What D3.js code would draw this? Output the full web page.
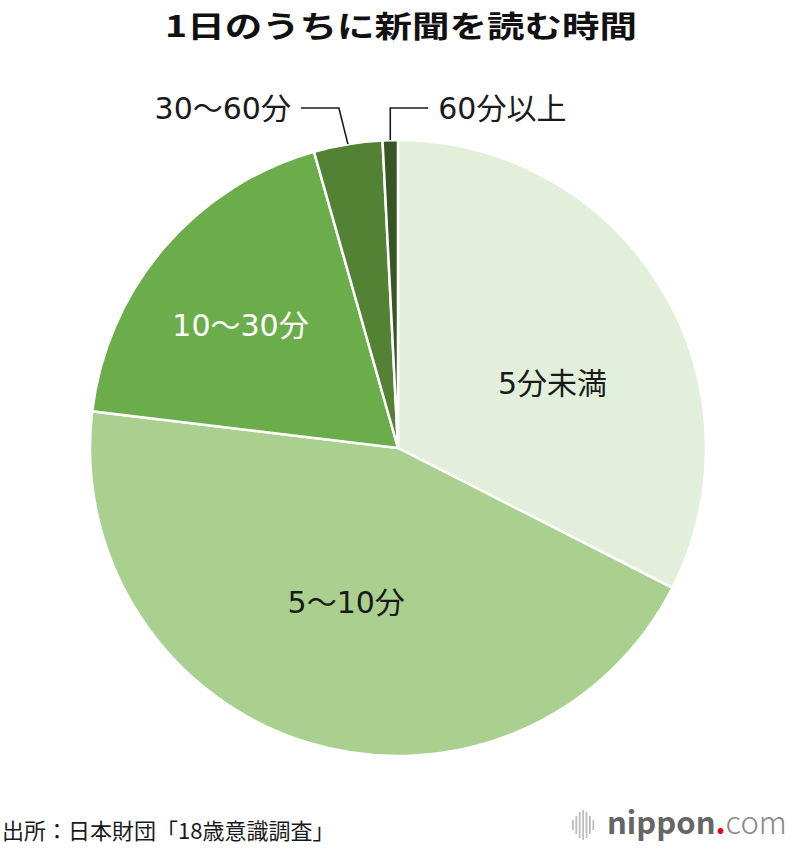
<!DOCTYPE html>
<html>
<head>
<meta charset="utf-8" />
<title>1日のうちに新聞を読む時間</title>
<script src="https://d3js.org/d3.v7.min.js"></script>
<style>
    body {
        margin: 0;
        background: #ffffff;
    }
    text {
        font-family: "Noto Sans CJK JP", "Noto Sans", sans-serif;
    }
    .label,
    .outlabel {
        font-family: "DejaVu Sans", "Noto Sans CJK JP", sans-serif;
    }
    .slice {
        stroke: #ffffff;
        stroke-width: 2.5px;
    }
    .leader {
        fill: none;
        stroke: #1a1a1a;
        stroke-width: 1.6px;
    }
</style>
</head>
<body>
<svg id="chart" width="800" height="850"></svg>
<script>
    // data
    var categories = ["5分未満", "5～10分", "10～30分", "30～60分", "60分以上"];
    var values = [32.5, 44.4, 18.7, 3.6, 0.8];
    var colors = ["#e2efda", "#a9d08e", "#6bad4b", "#548235", "#375623"];
    var labelColors = ["#1a1a1a", "#1a1a1a", "#ffffff", "#1a1a1a", "#1a1a1a"];

    var width = 800,
        height = 850,
        cx = 398,
        cy = 448,
        radius = 308;

    var svg = d3.select("#chart");

    // title
    svg.append("text")
        .attr("x", 0)
        .attr("y", 0)
        .attr("transform", "translate(401,37) scale(1.25,1)")
        .attr("text-anchor", "middle")
        .attr("font-size", "30px")
        .attr("font-weight", "bold")
        .attr("fill", "#111")
        .text("1日のうちに新聞を読む時間");

    var data = categories.map(function(c, i) {
        return { name: c, value: values[i], color: colors[i], labelColor: labelColors[i] };
    });

    var pie = d3.pie()
        .sort(null)
        .value(function(d) { return d.value; });

    var arc = d3.arc().innerRadius(0).outerRadius(radius);
    var labelArc = d3.arc().innerRadius(radius * 0.6).outerRadius(radius * 0.6);
    var edgeArc = d3.arc().innerRadius(radius).outerRadius(radius);

    var arcs = pie(data);

    var g = svg.append("g")
        .attr("transform", "translate(" + cx + "," + cy + ")");

    g.selectAll(".slice")
        .data(arcs)
        .enter().append("path")
        .attr("class", "slice")
        .attr("d", arc)
        .attr("fill", function(d) { return d.data.color; });

    // inside labels (big slices), nudged from the centroid
    var inside = [[-3, 32], [2, -22], [-17, -2]];

    g.selectAll(".label")
        .data(arcs.slice(0, 3))
        .enter().append("text")
        .attr("class", "label")
        .attr("transform", function(d, i) {
            var c = labelArc.centroid(d);
            return "translate(" + (c[0] + inside[i][0]) + "," + (c[1] + inside[i][1]) + ")";
        })
        .attr("text-anchor", "middle")
        .attr("dominant-baseline", "central")
        .attr("font-size", "30px")
        .attr("fill", function(d) { return d.data.labelColor; })
        .text(function(d) { return d.data.name; });

    // outside labels with leader lines (small slices)
    var lineY = -radius - 32;
    var outside = [
        { elbowDx: -9, run: -38, anchor: "end" },
        { elbowDx: 0, run: 38, anchor: "start" }
    ];

    var small = arcs.slice(3);

    g.selectAll(".leader")
        .data(small)
        .enter().append("path")
        .attr("class", "leader")
        .attr("d", function(d, i) {
            var p = edgeArc.centroid(d);
            var ex = p[0] + outside[i].elbowDx;
            return d3.line()([[p[0], p[1]], [ex, lineY], [ex + outside[i].run, lineY]]);
        });

    g.selectAll(".outlabel")
        .data(small)
        .enter().append("text")
        .attr("class", "outlabel")
        .attr("x", function(d, i) {
            var p = edgeArc.centroid(d);
            var o = outside[i];
            return p[0] + o.elbowDx + o.run + (o.run < 0 ? -10 : 10);
        })
        .attr("y", lineY)
        .attr("text-anchor", function(d, i) { return outside[i].anchor; })
        .attr("dominant-baseline", "central")
        .attr("font-size", "30px")
        .attr("fill", "#1a1a1a")
        .text(function(d) { return d.data.name; });

    // source
    svg.append("text")
        .attr("x", 2)
        .attr("y", 839)
        .attr("font-size", "22px")
        .attr("fill", "#1a1a1a")
        .text("出所：日本財団「18歳意識調査」");

    // nippon.com logo
    var logo = svg.append("g").attr("transform", "translate(572,810)");
    var barH = [10, 18, 26, 30, 26, 18, 10];
    logo.selectAll("rect")
        .data(barH)
        .enter().append("rect")
        .attr("x", function(d, i) { return i * 3.4; })
        .attr("y", function(d) { return 15 - d / 2; })
        .attr("width", 1.8)
        .attr("height", function(d) { return d; })
        .attr("fill", "#bdbdbd");

    var logoText = svg.append("text")
        .attr("x", 607)
        .attr("y", 834)
        .attr("font-family", "Open Sans, sans-serif")
        .attr("font-size", "31px");
    logoText.append("tspan").attr("font-weight", "bold").attr("fill", "#666").text("nippon");
    logoText.append("tspan").attr("font-weight", "bold").attr("fill", "#e60012").text(".");
    logoText.append("tspan").attr("font-weight", "300").attr("fill", "#888").text("com");
</script>
</body>
</html>
